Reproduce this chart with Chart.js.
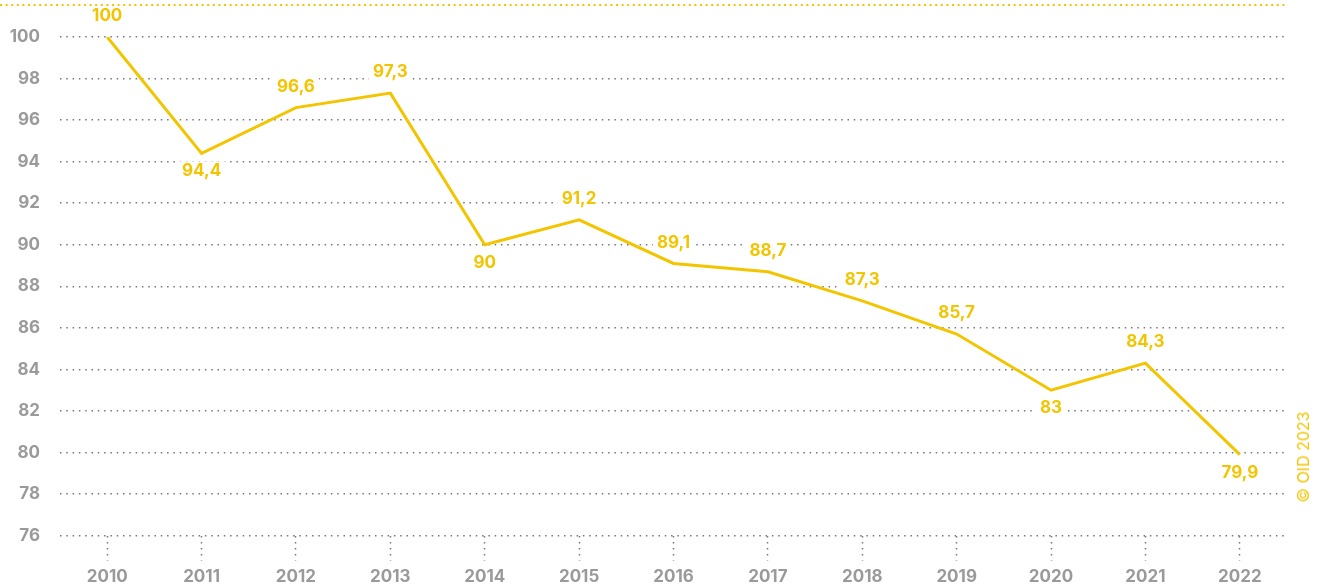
<!DOCTYPE html>
<html>
<head>
<meta charset="utf-8">
<script src="https://cdn.jsdelivr.net/npm/chart.js@4"></script>
<style>
  html, body { margin: 0; padding: 0; background: #fff; }
  #wrap { position: relative; width: 1321px; height: 585px; }
  #copy {
    position: absolute; left: 1303px; top: 457px;
    transform: translate(-50%, -50%) rotate(-90deg);
    font: 16px Inter, "Liberation Sans", Arial, sans-serif; color: #f2c500;
    white-space: nowrap;
  }
</style>
</head>
<body>
<div id="wrap">
  <canvas id="chart"></canvas>
  <div id="copy">© OID 2023</div>
</div>
<script>
const years = ['2010','2011','2012','2013','2014','2015','2016','2017','2018','2019','2020','2021','2022'];
const indexValues = [100, 94.4, 96.6, 97.3, 90, 91.2, 89.1, 88.7, 87.3, 85.7, 83, 84.3, 79.9];
const valueLabels = ['100','94,4','96,6','97,3','90','91,2','89,1','88,7','87,3','85,7','83','84,3','79,9'];
const labelSide = ['up','down','up','up','down','up','up','up','up','up','down','up','down'];

const yellow = '#f2c500';
const grey = '#9a9a9a';
const fontFamily = 'Inter, "Liberation Sans", Arial, sans-serif';
const labelFont = 'bold 17px ' + fontFamily;

function labelPos(chart, i){
  const pt = chart.getDatasetMeta(0).data[i];
  const dy = labelSide[i] === 'up' ? -21 : 18;
  return { x: pt.x, y: pt.y + dy };
}

const valueLabelPlugin = {
  id: 'valueLabels',
  beforeDraw(chart){
    // top dotted rule
    const ctx = chart.ctx;
    ctx.save();
    ctx.strokeStyle = yellow;
    ctx.lineWidth = 2;
    ctx.setLineDash([2, 3.6]);
    ctx.beginPath();
    ctx.moveTo(0, 5);
    ctx.lineTo(chart.chartArea.right, 5);
    ctx.stroke();
    ctx.restore();
  },
  beforeDatasetsDraw(chart){
    const ctx = chart.ctx;
    ctx.save();
    ctx.font = labelFont;
    ctx.fillStyle = '#fff';
    valueLabels.forEach((t, i) => {
      const p = labelPos(chart, i);
      const w = ctx.measureText(t).width + 8;
      ctx.fillRect(p.x - w / 2, p.y - 10, w, 20);
    });
    ctx.restore();
  },
  afterDatasetsDraw(chart){
    const ctx = chart.ctx;
    ctx.save();
    ctx.font = labelFont;
    ctx.fillStyle = yellow;
    ctx.textAlign = 'center';
    ctx.textBaseline = 'middle';
    valueLabels.forEach((t, i) => {
      const p = labelPos(chart, i);
      ctx.fillText(t, p.x, p.y);
    });
    ctx.restore();
  }
};

new Chart(document.getElementById('chart').getContext('2d'), {
  type: 'line',
  data: {
    labels: years,
    datasets: [{
      data: indexValues,
      borderColor: yellow,
      borderWidth: 3,
      pointRadius: 0,
      tension: 0,
      fill: false
    }]
  },
  options: {
    responsive: true,
    maintainAspectRatio: false,
    animation: false,
    layout: { padding: { left: 8, right: 34, top: 37, bottom: -8 } },
    plugins: { legend: { display: false }, tooltip: { enabled: false } },
    scales: {
      x: {
        offset: true,
        border: { display: false },
        grid: {
          offset: false,
          drawOnChartArea: false,
          drawTicks: true,
          tickLength: 25,
          tickColor: '#777',
          tickWidth: 1.5,
          tickBorderDash: [1.5, 4.5]
        },
        ticks: {
          color: grey,
          padding: 6,
          font: { family: fontFamily, size: 17, weight: 'bold' }
        }
      },
      y: {
        min: 76,
        max: 100,
        afterFit(scale){ scale.width = 52; },
        border: { display: false, dash: [1.5, 4.8] },
        grid: {
          drawTicks: false,
          color: '#777',
          lineWidth: 1.5
        },
        ticks: {
          stepSize: 2,
          color: grey,
          padding: 20,
          font: { family: fontFamily, size: 17, weight: 'bold' }
        }
      }
    }
  },
  plugins: [valueLabelPlugin]
});
</script>
</body>
</html>
